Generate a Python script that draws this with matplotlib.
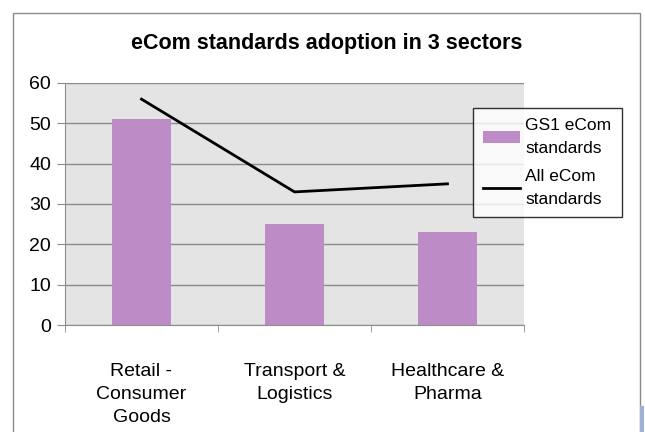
import matplotlib.pyplot as plt
from matplotlib.patches import Rectangle

plt.rcParams["font.family"] = ["Liberation Sans", "DejaVu Sans"]

categories = ["Retail -\nConsumer\nGoods", "Transport &\nLogistics", "Healthcare &\nPharma"]
gs1_ecom = [51, 25, 23]
all_ecom = [56, 33, 35]
yticks = [0, 10, 20, 30, 40, 50, 60]

W, H = 645, 432
fig = plt.figure(figsize=(W / 100, H / 100), dpi=100)
fig.patch.set_facecolor("white")

# outer chart border
fig.patches.append(Rectangle((13 / W, -0.1), 627 / W, (H - 13) / H + 0.1,
                             transform=fig.transFigure, fill=False,
                             edgecolor="#8a8a8a", lw=1.0))

ax = fig.add_axes([65 / W, (H - 325) / H, 459 / W, 242 / H])
ax.set_facecolor("#e4e4e4")

x = list(range(len(categories)))
bars = ax.bar(x, gs1_ecom, width=0.39, color="#bd8cc6", zorder=3)
line, = ax.plot(x, all_ecom, color="black", lw=2, zorder=4)

ax.set_xlim(-0.5, 2.5)
ax.set_ylim(0, 60)
ax.set_yticks(yticks)
ax.set_yticklabels([str(v) for v in yticks], fontsize=14)
ax.yaxis.grid(True, color="#8c8c8c", lw=1, zorder=0)
ax.tick_params(axis="y", direction="out", length=6, color="#8c8c8c", pad=4)

ax.set_xticks(x)
ax.set_xticklabels(categories, fontsize=14, linespacing=1.5)
ax.set_xticks([-0.5, 0.5, 1.5, 2.5], minor=True)
ax.tick_params(axis="x", which="major", length=0, pad=27)
ax.tick_params(axis="x", which="minor", direction="out", length=5, color="#8c8c8c")

for s in ["top", "right"]:
    ax.spines[s].set_visible(False)
for s in ["left", "bottom"]:
    ax.spines[s].set_color("#8c8c8c")

fig.text(327 / W, 1 - 43 / H, "eCom standards adoption in 3 sectors",
         ha="center", va="center", fontsize=15.5, fontweight="bold")

leg = ax.legend([bars, line], ["GS1 eCom\nstandards", "All eCom\nstandards"],
                loc="upper left", bbox_to_anchor=(473 / W, 1 - 108 / H),
                bbox_transform=fig.transFigure, frameon=True, fancybox=False,
                handlelength=2.1, handletextpad=0.3,
                labelspacing=0.75, borderpad=0.6, borderaxespad=0,
                prop={"size": 12.5})
for t in leg.get_texts():
    t.set_linespacing(1.65)
leg.get_frame().set_edgecolor("black")
leg.get_frame().set_linewidth(1)
leg.get_frame().set_facecolor("white")
leg.set_zorder(10)

# small blue mark at bottom right corner
fig.add_artist(plt.Line2D([642 / W, 642 / W], [0, 24 / H], color="#9db3d6", lw=3,
                          transform=fig.transFigure))

fig.savefig("out.png", dpi=100)
